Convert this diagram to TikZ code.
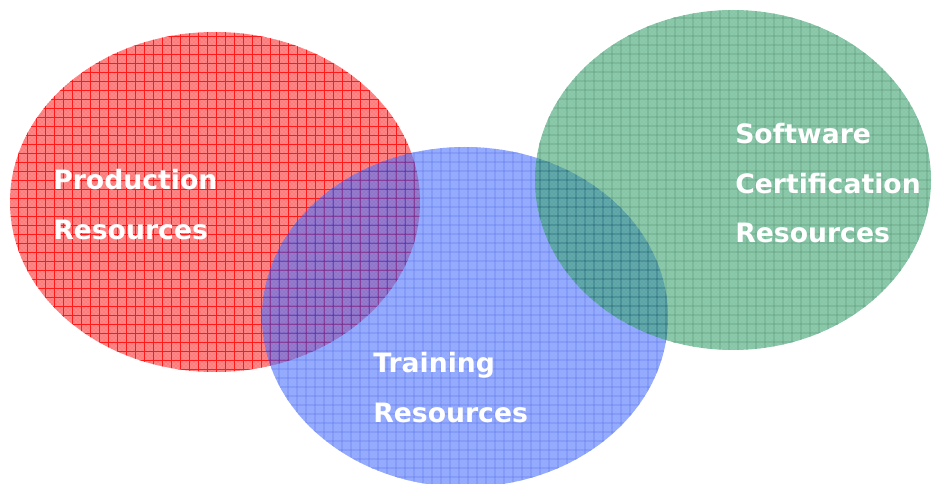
\documentclass[tikz,border=0pt]{standalone}
\usepackage{fontspec}
\setmainfont{DejaVu Sans}
\usetikzlibrary{patterns}
\definecolor{redfill}{RGB}{255,135,135}
\definecolor{redline}{RGB}{255,25,25}
\definecolor{reddot}{RGB}{245,90,90}
\definecolor{bluefill}{RGB}{80,118,255}
\definecolor{blueline}{RGB}{10,45,225}
\definecolor{bluedot}{RGB}{50,90,235}
\definecolor{greenfill}{RGB}{62,168,115}
\definecolor{greenline}{RGB}{0,95,50}
\definecolor{greendot}{RGB}{35,130,80}
\begin{document}
\begin{tikzpicture}[x=0.75pt,y=-0.75pt,
  lbl/.style={anchor=base west,inner sep=0pt,text=white,
    font=\bfseries\fontsize{20}{37}\selectfont},
  gridlines/.style={line width=0.6pt}]
\useasboundingbox (0,0) rectangle (932,484);
% red ellipse
\begin{scope}
  \clip (215,202) ellipse [x radius=153.75pt, y radius=127.5pt];
  \fill[redfill] (0,0) rectangle (932,484);
  \fill[pattern=crosshatch dots, pattern color=reddot] (0,0) rectangle (932,484);
  \draw[gridlines, redline, step=6.75pt] (0,0) grid (932,484);
\end{scope}
% blue ellipse
\begin{scope}[transparency group, opacity=0.6]
  \clip (465,317) ellipse [x radius=152.25pt, y radius=127.5pt];
  \fill[bluefill] (0,0) rectangle (932,484);
  \fill[pattern=crosshatch dots, pattern color=bluedot] (0,0) rectangle (932,484);
  \draw[gridlines, blueline, step=6.75pt] (0,0) grid (932,484);
\end{scope}
% green ellipse
\begin{scope}[transparency group, opacity=0.6]
  \clip (733,180) ellipse [x radius=148.5pt, y radius=127.5pt];
  \fill[greenfill] (0,0) rectangle (932,484);
  \fill[pattern=crosshatch dots, pattern color=greendot] (0,0) rectangle (932,484);
  \draw[gridlines, greenline, step=6.75pt] (0,0) grid (932,484);
\end{scope}
% labels
\node[lbl] (prod) at (53,190) {\begin{tabular}[t]{@{}l@{}}Production\\Resources\end{tabular}};
\node[lbl] (train) at (373,373) {\begin{tabular}[t]{@{}l@{}}Training\\Resources\end{tabular}};
\node[lbl] (soft) at (735,144) {\begin{tabular}[t]{@{}l@{}}Software\\Certification\\Resources\end{tabular}};
\end{tikzpicture}
\end{document}
